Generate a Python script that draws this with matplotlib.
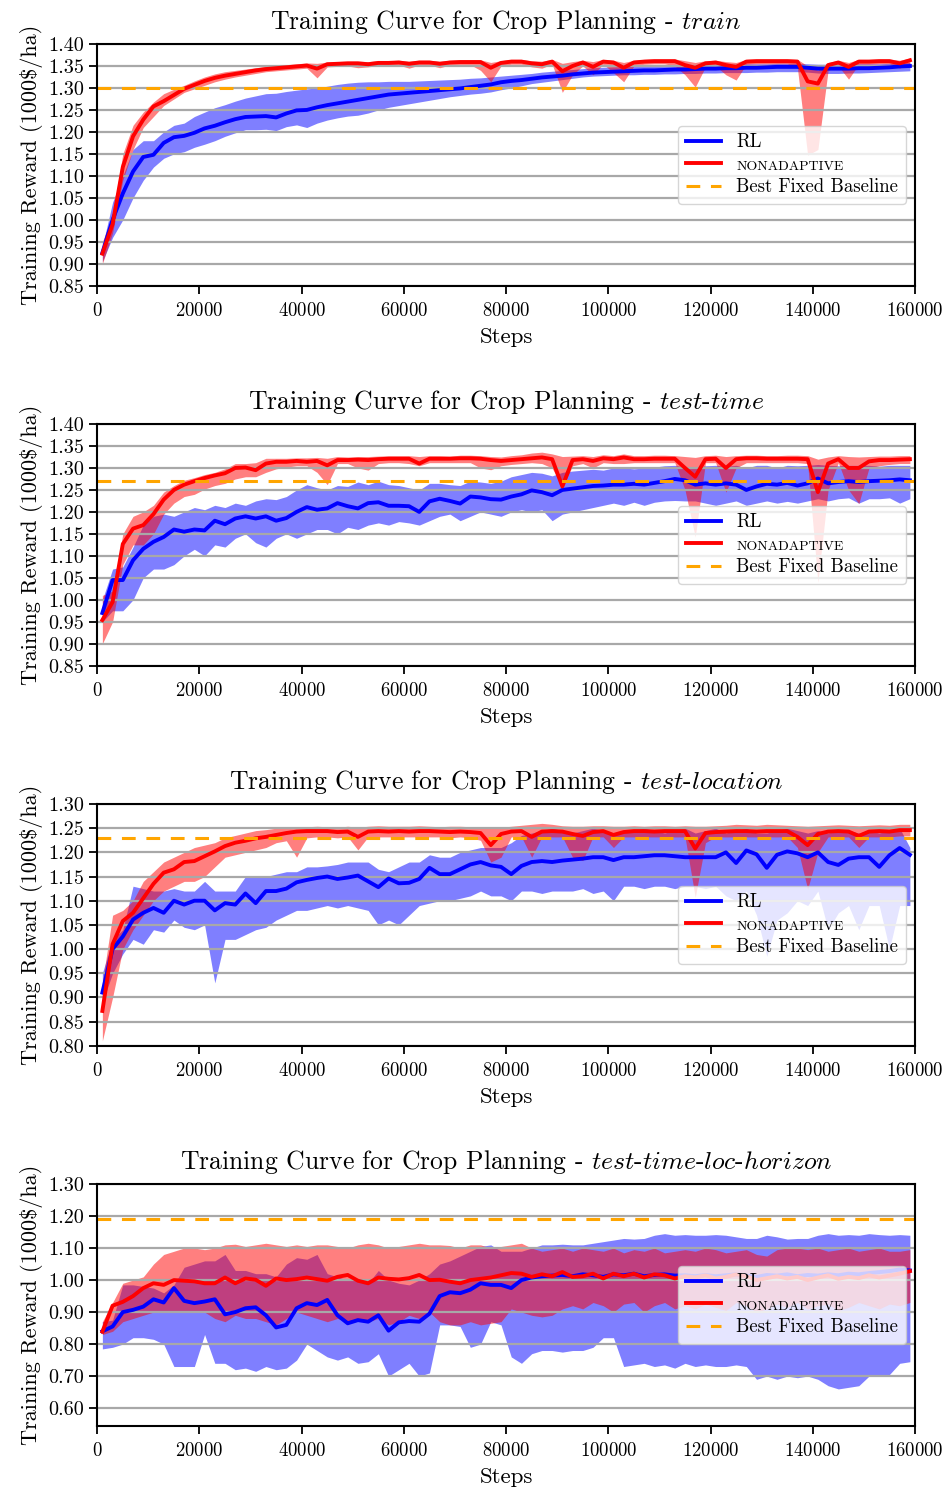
import numpy as np
import matplotlib
matplotlib.use("Agg")
import matplotlib.pyplot as plt
from matplotlib.ticker import FormatStrFormatter

plt.rcParams['font.family'] = 'cmr10'
plt.rcParams['mathtext.fontset'] = 'cm'
plt.rcParams['axes.formatter.use_mathtext'] = True

# logged training steps (every 2000 steps)
steps = np.arange(1000, 160000, 2000)

# ── train ────────────────────────────────────────────────────────────
train_na_mean = [
    0.923, 0.990, 1.120, 1.190, 1.228, 1.258, 1.270, 1.284, 1.298, 1.307,
    1.316, 1.323, 1.328, 1.332, 1.336, 1.340, 1.343, 1.345, 1.347, 1.349,
    1.351, 1.344, 1.354, 1.355, 1.356, 1.356, 1.354, 1.357, 1.357, 1.358,
    1.355, 1.358, 1.358, 1.355, 1.358, 1.359, 1.359, 1.359, 1.346, 1.357,
    1.360, 1.360, 1.356, 1.354, 1.360, 1.338, 1.350, 1.358, 1.348, 1.360,
    1.358, 1.346, 1.358, 1.360, 1.361, 1.361, 1.361, 1.352, 1.346, 1.356,
    1.358, 1.352, 1.348, 1.360, 1.361, 1.361, 1.361, 1.361, 1.360, 1.315,
    1.310, 1.352, 1.358, 1.348, 1.360, 1.360, 1.361, 1.361, 1.356, 1.363]
train_na_low = [
    0.900, 0.970, 1.090, 1.160, 1.210, 1.235, 1.260, 1.275, 1.290, 1.298,
    1.306, 1.314, 1.320, 1.325, 1.329, 1.333, 1.337, 1.339, 1.341, 1.343,
    1.345, 1.323, 1.348, 1.349, 1.350, 1.346, 1.348, 1.351, 1.351, 1.352,
    1.345, 1.352, 1.352, 1.346, 1.352, 1.353, 1.353, 1.340, 1.314, 1.350,
    1.354, 1.354, 1.348, 1.345, 1.354, 1.290, 1.330, 1.350, 1.330, 1.354,
    1.335, 1.314, 1.350, 1.354, 1.355, 1.355, 1.350, 1.330, 1.302, 1.348,
    1.350, 1.330, 1.318, 1.354, 1.355, 1.355, 1.355, 1.355, 1.345, 1.147,
    1.160, 1.340, 1.350, 1.320, 1.354, 1.354, 1.355, 1.355, 1.345, 1.356]
train_na_high = [
    0.950, 1.010, 1.150, 1.215, 1.245, 1.268, 1.287, 1.297, 1.306, 1.316,
    1.325, 1.332, 1.337, 1.340, 1.343, 1.346, 1.349, 1.351, 1.353, 1.355,
    1.357, 1.356, 1.359, 1.360, 1.361, 1.361, 1.360, 1.362, 1.362, 1.363,
    1.361, 1.363, 1.363, 1.361, 1.363, 1.364, 1.364, 1.364, 1.358, 1.362,
    1.365, 1.365, 1.362, 1.361, 1.365, 1.356, 1.360, 1.363, 1.360, 1.365,
    1.363, 1.358, 1.363, 1.365, 1.366, 1.366, 1.366, 1.362, 1.358, 1.362,
    1.363, 1.360, 1.358, 1.365, 1.366, 1.366, 1.366, 1.366, 1.365, 1.350,
    1.340, 1.358, 1.363, 1.358, 1.365, 1.365, 1.366, 1.366, 1.363, 1.368]
train_rl_mean = [
    0.925, 1.000, 1.060, 1.110, 1.143, 1.148, 1.175, 1.188, 1.191, 1.198,
    1.208, 1.214, 1.222, 1.229, 1.234, 1.235, 1.236, 1.233, 1.242, 1.249,
    1.250, 1.256, 1.261, 1.265, 1.269, 1.273, 1.277, 1.281, 1.285, 1.287,
    1.289, 1.291, 1.293, 1.295, 1.297, 1.299, 1.302, 1.305, 1.308, 1.313,
    1.316, 1.318, 1.321, 1.324, 1.326, 1.328, 1.331, 1.333, 1.335, 1.336,
    1.337, 1.338, 1.339, 1.340, 1.340, 1.341, 1.342, 1.342, 1.343, 1.344,
    1.344, 1.345, 1.345, 1.346, 1.346, 1.347, 1.348, 1.348, 1.348, 1.346,
    1.344, 1.344, 1.344, 1.344, 1.345, 1.345, 1.346, 1.347, 1.349, 1.350]
train_rl_low = [
    0.905, 0.960, 1.000, 1.050, 1.090, 1.120, 1.140, 1.150, 1.155, 1.165,
    1.172, 1.180, 1.190, 1.198, 1.205, 1.205, 1.206, 1.203, 1.212, 1.216,
    1.210, 1.220, 1.227, 1.232, 1.236, 1.238, 1.243, 1.250, 1.256, 1.260,
    1.264, 1.268, 1.272, 1.276, 1.280, 1.283, 1.286, 1.288, 1.291, 1.296,
    1.300, 1.305, 1.310, 1.313, 1.316, 1.319, 1.322, 1.325, 1.327, 1.328,
    1.329, 1.330, 1.330, 1.331, 1.331, 1.332, 1.332, 1.333, 1.333, 1.334,
    1.334, 1.335, 1.335, 1.335, 1.336, 1.336, 1.337, 1.337, 1.337, 1.336,
    1.334, 1.333, 1.333, 1.334, 1.334, 1.335, 1.336, 1.337, 1.338, 1.339]
train_rl_high = [
    0.940, 1.040, 1.100, 1.160, 1.180, 1.180, 1.200, 1.215, 1.220, 1.235,
    1.245, 1.255, 1.262, 1.270, 1.277, 1.282, 1.287, 1.288, 1.292, 1.295,
    1.298, 1.300, 1.304, 1.308, 1.311, 1.313, 1.314, 1.314, 1.315, 1.315,
    1.315, 1.316, 1.317, 1.318, 1.319, 1.320, 1.322, 1.323, 1.325, 1.327,
    1.329, 1.331, 1.333, 1.336, 1.338, 1.340, 1.342, 1.344, 1.346, 1.347,
    1.348, 1.349, 1.350, 1.350, 1.351, 1.351, 1.352, 1.352, 1.353, 1.353,
    1.354, 1.354, 1.354, 1.355, 1.355, 1.355, 1.356, 1.356, 1.356, 1.355,
    1.354, 1.354, 1.354, 1.354, 1.355, 1.355, 1.355, 1.356, 1.357, 1.358]

# ── test-time ────────────────────────────────────────────────────────
time_na_mean = [
    0.954, 0.995, 1.127, 1.162, 1.170, 1.195, 1.228, 1.250, 1.262, 1.270,
    1.277, 1.283, 1.288, 1.300, 1.301, 1.295, 1.310, 1.314, 1.314, 1.316,
    1.314, 1.316, 1.306, 1.318, 1.318, 1.319, 1.318, 1.320, 1.321, 1.321,
    1.321, 1.310, 1.321, 1.321, 1.321, 1.322, 1.322, 1.321, 1.318, 1.316,
    1.318, 1.320, 1.322, 1.324, 1.320, 1.258, 1.318, 1.320, 1.316, 1.322,
    1.320, 1.324, 1.320, 1.320, 1.321, 1.321, 1.321, 1.300, 1.280, 1.320,
    1.321, 1.300, 1.320, 1.322, 1.322, 1.321, 1.321, 1.321, 1.321, 1.320,
    1.245, 1.310, 1.320, 1.300, 1.300, 1.315, 1.318, 1.318, 1.319, 1.320]
time_na_low = [
    0.900, 0.950, 1.080, 1.125, 1.125, 1.150, 1.195, 1.220, 1.235, 1.240,
    1.252, 1.260, 1.265, 1.275, 1.280, 1.280, 1.290, 1.298, 1.302, 1.305,
    1.305, 1.290, 1.262, 1.310, 1.310, 1.300, 1.295, 1.310, 1.312, 1.312,
    1.310, 1.305, 1.312, 1.312, 1.312, 1.312, 1.312, 1.300, 1.296, 1.305,
    1.308, 1.310, 1.312, 1.310, 1.300, 1.255, 1.305, 1.310, 1.300, 1.312,
    1.310, 1.310, 1.312, 1.312, 1.312, 1.312, 1.312, 1.250, 1.143, 1.312,
    1.312, 1.245, 1.300, 1.312, 1.312, 1.312, 1.312, 1.312, 1.312, 1.310,
    1.040, 1.250, 1.312, 1.250, 1.219, 1.300, 1.305, 1.308, 1.310, 1.310]
time_na_high = [
    1.010, 1.020, 1.150, 1.190, 1.200, 1.215, 1.245, 1.260, 1.272, 1.278,
    1.285, 1.290, 1.298, 1.310, 1.310, 1.312, 1.322, 1.322, 1.322, 1.323,
    1.323, 1.324, 1.322, 1.326, 1.325, 1.326, 1.326, 1.327, 1.328, 1.328,
    1.328, 1.326, 1.328, 1.328, 1.327, 1.329, 1.329, 1.328, 1.326, 1.325,
    1.328, 1.330, 1.334, 1.336, 1.332, 1.326, 1.327, 1.328, 1.326, 1.330,
    1.328, 1.332, 1.328, 1.328, 1.329, 1.329, 1.328, 1.326, 1.324, 1.328,
    1.329, 1.326, 1.328, 1.329, 1.329, 1.328, 1.328, 1.329, 1.329, 1.328,
    1.320, 1.325, 1.328, 1.326, 1.325, 1.326, 1.327, 1.327, 1.328, 1.328]
time_rl_mean = [
    0.970, 1.045, 1.045, 1.090, 1.116, 1.132, 1.143, 1.160, 1.155, 1.160,
    1.158, 1.180, 1.172, 1.185, 1.190, 1.185, 1.190, 1.180, 1.186, 1.200,
    1.211, 1.205, 1.208, 1.220, 1.213, 1.208, 1.220, 1.222, 1.214, 1.214,
    1.213, 1.200, 1.224, 1.230, 1.225, 1.219, 1.235, 1.233, 1.229, 1.228,
    1.235, 1.240, 1.249, 1.245, 1.238, 1.250, 1.253, 1.256, 1.259, 1.260,
    1.262, 1.262, 1.264, 1.262, 1.266, 1.270, 1.275, 1.272, 1.262, 1.265,
    1.262, 1.265, 1.262, 1.250, 1.258, 1.264, 1.262, 1.266, 1.260, 1.265,
    1.276, 1.265, 1.268, 1.270, 1.268, 1.270, 1.271, 1.272, 1.274, 1.272]
time_rl_low = [
    0.950, 0.975, 0.975, 1.000, 1.050, 1.070, 1.070, 1.080, 1.100, 1.115,
    1.100, 1.125, 1.120, 1.140, 1.150, 1.130, 1.120, 1.140, 1.150, 1.140,
    1.150, 1.160, 1.160, 1.150, 1.165, 1.160, 1.170, 1.175, 1.170, 1.178,
    1.175, 1.170, 1.180, 1.190, 1.195, 1.180, 1.190, 1.200, 1.195, 1.190,
    1.200, 1.205, 1.200, 1.205, 1.180, 1.195, 1.200, 1.205, 1.210, 1.215,
    1.220, 1.215, 1.222, 1.215, 1.222, 1.225, 1.226, 1.225, 1.225, 1.220,
    1.215, 1.220, 1.225, 1.215, 1.220, 1.225, 1.220, 1.224, 1.220, 1.225,
    1.230, 1.225, 1.230, 1.232, 1.220, 1.230, 1.230, 1.232, 1.220, 1.230]
time_rl_high = [
    1.000, 1.070, 1.075, 1.120, 1.170, 1.190, 1.195, 1.190, 1.200, 1.210,
    1.205, 1.215, 1.210, 1.220, 1.215, 1.225, 1.230, 1.228, 1.235, 1.250,
    1.262, 1.255, 1.250, 1.260, 1.258, 1.268, 1.262, 1.270, 1.262, 1.260,
    1.255, 1.250, 1.265, 1.265, 1.262, 1.260, 1.270, 1.268, 1.265, 1.270,
    1.280, 1.285, 1.290, 1.288, 1.282, 1.290, 1.293, 1.295, 1.297, 1.295,
    1.300, 1.300, 1.298, 1.300, 1.302, 1.305, 1.306, 1.302, 1.300, 1.305,
    1.306, 1.304, 1.306, 1.300, 1.306, 1.306, 1.300, 1.306, 1.305, 1.306,
    1.308, 1.306, 1.305, 1.306, 1.306, 1.306, 1.304, 1.306, 1.306, 1.306]

# ── test-location ────────────────────────────────────────────────────
loc_na_mean = [
    0.872, 1.010, 1.058, 1.075, 1.105, 1.135, 1.158, 1.165, 1.180, 1.182,
    1.192, 1.202, 1.213, 1.220, 1.224, 1.229, 1.232, 1.236, 1.240, 1.243,
    1.244, 1.244, 1.244, 1.242, 1.243, 1.232, 1.243, 1.244, 1.243, 1.244,
    1.243, 1.244, 1.244, 1.243, 1.242, 1.243, 1.242, 1.240, 1.215, 1.238,
    1.243, 1.244, 1.232, 1.243, 1.244, 1.243, 1.238, 1.234, 1.242, 1.244,
    1.236, 1.242, 1.244, 1.244, 1.243, 1.244, 1.244, 1.244, 1.208, 1.240,
    1.242, 1.243, 1.244, 1.244, 1.243, 1.244, 1.244, 1.244, 1.232, 1.215,
    1.238, 1.243, 1.244, 1.243, 1.234, 1.243, 1.244, 1.243, 1.246, 1.246]
loc_na_low = [
    0.810, 0.900, 1.000, 1.040, 1.070, 1.100, 1.120, 1.130, 1.140, 1.140,
    1.150, 1.170, 1.190, 1.195, 1.200, 1.205, 1.210, 1.220, 1.224, 1.190,
    1.230, 1.232, 1.232, 1.230, 1.232, 1.205, 1.232, 1.232, 1.232, 1.232,
    1.232, 1.232, 1.232, 1.232, 1.230, 1.232, 1.230, 1.225, 1.180, 1.190,
    1.232, 1.232, 1.190, 1.232, 1.232, 1.232, 1.190, 1.183, 1.232, 1.232,
    1.210, 1.232, 1.232, 1.232, 1.232, 1.232, 1.232, 1.232, 1.107, 1.220,
    1.232, 1.232, 1.232, 1.232, 1.232, 1.232, 1.232, 1.232, 1.210, 1.124,
    1.200, 1.232, 1.232, 1.232, 1.210, 1.232, 1.232, 1.232, 1.234, 1.234]
loc_na_high = [
    0.930, 1.070, 1.080, 1.100, 1.140, 1.160, 1.180, 1.190, 1.200, 1.210,
    1.215, 1.220, 1.230, 1.235, 1.240, 1.245, 1.247, 1.250, 1.252, 1.252,
    1.253, 1.254, 1.253, 1.252, 1.254, 1.252, 1.254, 1.255, 1.254, 1.254,
    1.254, 1.255, 1.254, 1.253, 1.254, 1.254, 1.253, 1.253, 1.252, 1.252,
    1.254, 1.256, 1.258, 1.260, 1.258, 1.255, 1.254, 1.254, 1.255, 1.255,
    1.254, 1.254, 1.255, 1.254, 1.255, 1.255, 1.254, 1.255, 1.254, 1.254,
    1.255, 1.256, 1.258, 1.257, 1.256, 1.258, 1.257, 1.256, 1.255, 1.254,
    1.255, 1.256, 1.257, 1.256, 1.255, 1.256, 1.257, 1.256, 1.258, 1.258]
loc_rl_mean = [
    0.910, 1.000, 1.026, 1.061, 1.075, 1.085, 1.075, 1.100, 1.092, 1.100,
    1.100, 1.080, 1.095, 1.092, 1.115, 1.095, 1.120, 1.120, 1.125, 1.138,
    1.143, 1.147, 1.150, 1.145, 1.148, 1.152, 1.140, 1.128, 1.146, 1.136,
    1.137, 1.145, 1.168, 1.155, 1.155, 1.165, 1.175, 1.180, 1.173, 1.170,
    1.155, 1.172, 1.180, 1.182, 1.180, 1.183, 1.185, 1.187, 1.190, 1.190,
    1.184, 1.190, 1.190, 1.192, 1.194, 1.194, 1.192, 1.190, 1.190, 1.190,
    1.190, 1.200, 1.178, 1.204, 1.196, 1.168, 1.195, 1.202, 1.198, 1.190,
    1.200, 1.180, 1.174, 1.187, 1.190, 1.190, 1.170, 1.194, 1.209, 1.195]
loc_rl_low = [
    0.890, 0.950, 0.990, 1.020, 1.010, 1.040, 1.035, 1.060, 1.045, 1.040,
    1.050, 0.930, 1.020, 1.020, 1.030, 1.040, 1.045, 1.060, 1.070, 1.080,
    1.080, 1.085, 1.090, 1.085, 1.090, 1.085, 1.080, 1.050, 1.060, 1.050,
    1.070, 1.090, 1.095, 1.100, 1.100, 1.105, 1.110, 1.120, 1.110, 1.110,
    1.100, 1.120, 1.120, 1.115, 1.120, 1.120, 1.120, 1.125, 1.115, 1.120,
    1.100, 1.130, 1.130, 1.125, 1.130, 1.130, 1.125, 1.130, 1.130, 1.125,
    1.130, 1.110, 1.100, 1.120, 1.070, 0.985, 1.060, 1.075, 1.100, 1.090,
    1.120, 1.040, 1.075, 1.090, 1.040, 1.090, 1.090, 1.000, 1.090, 1.090]
loc_rl_high = [
    0.950, 1.020, 1.040, 1.130, 1.125, 1.120, 1.120, 1.125, 1.120, 1.120,
    1.140, 1.120, 1.120, 1.120, 1.150, 1.150, 1.150, 1.155, 1.160, 1.160,
    1.170, 1.170, 1.172, 1.175, 1.180, 1.180, 1.180, 1.165, 1.160, 1.170,
    1.180, 1.180, 1.195, 1.190, 1.190, 1.200, 1.205, 1.210, 1.210, 1.210,
    1.220, 1.235, 1.240, 1.245, 1.250, 1.245, 1.240, 1.245, 1.250, 1.245,
    1.240, 1.240, 1.245, 1.250, 1.245, 1.240, 1.245, 1.250, 1.240, 1.245,
    1.250, 1.240, 1.245, 1.250, 1.240, 1.240, 1.245, 1.250, 1.245, 1.240,
    1.245, 1.240, 1.245, 1.245, 1.240, 1.245, 1.240, 1.245, 1.250, 1.210]

# ── test-time-loc-horizon ────────────────────────────────────────────
hor_na_mean = [
    0.839, 0.920, 0.932, 0.950, 0.975, 0.990, 0.985, 1.000, 0.998, 0.996,
    0.990, 0.990, 1.008, 0.990, 1.005, 1.001, 0.982, 1.005, 1.000, 1.003,
    1.008, 1.003, 0.998, 1.010, 1.016, 0.998, 0.990, 1.008, 1.004, 1.002,
    1.006, 1.016, 1.000, 1.001, 0.995, 0.990, 1.000, 1.004, 1.008, 1.015,
    1.022, 1.020, 1.010, 1.018, 1.012, 1.025, 1.010, 1.012, 1.020, 1.005,
    1.020, 1.012, 1.020, 1.008, 1.018, 1.015, 1.005, 1.012, 1.008, 1.015,
    1.005, 1.010, 1.018, 1.012, 1.000, 1.006, 1.012, 1.005, 1.010, 1.000,
    1.008, 1.015, 1.004, 1.010, 1.006, 1.015, 1.008, 1.014, 1.020, 1.028]
hor_na_low = [
    0.830, 0.840, 0.870, 0.880, 0.890, 0.900, 0.900, 0.905, 0.900, 0.905,
    0.900, 0.880, 0.870, 0.890, 0.880, 0.880, 0.870, 0.860, 0.880, 0.900,
    0.890, 0.880, 0.870, 0.880, 0.870, 0.880, 0.870, 0.880, 0.860, 0.870,
    0.890, 0.880, 0.900, 0.870, 0.860, 0.860, 0.870, 0.860, 0.865, 0.870,
    0.910, 0.900, 0.890, 0.885, 0.890, 0.910, 0.920, 0.910, 0.930, 0.920,
    0.900, 0.925, 0.930, 0.900, 0.920, 0.930, 0.910, 0.920, 0.910, 0.925,
    0.915, 0.905, 0.930, 0.920, 0.900, 0.910, 0.925, 0.915, 0.930, 0.910,
    0.920, 0.925, 0.905, 0.915, 0.930, 0.920, 0.910, 0.925, 0.920, 0.930]
hor_na_high = [
    0.870, 0.930, 0.990, 1.000, 1.010, 1.050, 1.080, 1.090, 1.100, 1.100,
    1.095, 1.100, 1.110, 1.112, 1.105, 1.110, 1.115, 1.110, 1.105, 1.110,
    1.105, 1.110, 1.110, 1.105, 1.100, 1.110, 1.115, 1.110, 1.100, 1.105,
    1.110, 1.115, 1.110, 1.110, 1.108, 1.100, 1.110, 1.110, 1.100, 1.105,
    1.110, 1.115, 1.100, 1.090, 1.095, 1.100, 1.090, 1.100, 1.095, 1.090,
    1.100, 1.085, 1.095, 1.090, 1.100, 1.085, 1.090, 1.095, 1.090, 1.100,
    1.095, 1.085, 1.090, 1.095, 1.080, 1.075, 1.095, 1.100, 1.100, 1.095,
    1.100, 1.090, 1.095, 1.100, 1.090, 1.095, 1.100, 1.090, 1.090, 1.095]
hor_rl_mean = [
    0.840, 0.855, 0.900, 0.907, 0.917, 0.940, 0.930, 0.975, 0.935, 0.928,
    0.933, 0.940, 0.893, 0.900, 0.912, 0.915, 0.890, 0.852, 0.860, 0.912,
    0.928, 0.922, 0.938, 0.890, 0.865, 0.875, 0.870, 0.890, 0.842, 0.868,
    0.872, 0.870, 0.895, 0.950, 0.962, 0.959, 0.970, 0.990, 0.985, 0.985,
    0.975, 1.000, 1.008, 1.012, 1.014, 1.016, 1.012, 1.018, 1.015, 1.010,
    1.018, 1.015, 1.020, 1.012, 1.016, 1.018, 1.014, 1.015, 1.012, 1.016,
    1.012, 1.015, 1.018, 1.014, 1.010, 1.016, 1.014, 1.018, 1.012, 1.016,
    1.014, 1.018, 1.015, 1.020, 1.018, 1.022, 1.025, 1.028, 1.033, 1.030]
hor_rl_low = [
    0.785, 0.790, 0.800, 0.820, 0.820, 0.815, 0.800, 0.730, 0.730, 0.730,
    0.830, 0.740, 0.740, 0.720, 0.725, 0.715, 0.730, 0.720, 0.725, 0.750,
    0.800, 0.780, 0.760, 0.750, 0.760, 0.740, 0.745, 0.770, 0.700, 0.720,
    0.740, 0.700, 0.710, 0.860, 0.860, 0.855, 0.790, 0.800, 0.870, 0.860,
    0.760, 0.740, 0.770, 0.780, 0.780, 0.775, 0.780, 0.780, 0.790, 0.820,
    0.820, 0.730, 0.735, 0.740, 0.730, 0.735, 0.725, 0.740, 0.730, 0.735,
    0.730, 0.730, 0.735, 0.730, 0.690, 0.700, 0.690, 0.700, 0.695, 0.700,
    0.690, 0.670, 0.660, 0.665, 0.670, 0.700, 0.700, 0.705, 0.740, 0.745]
hor_rl_high = [
    0.870, 0.875, 0.985, 0.985, 0.980, 0.975, 0.960, 0.985, 1.040, 1.050,
    1.060, 1.060, 1.080, 1.030, 1.030, 1.020, 1.020, 1.010, 1.050, 1.070,
    1.065, 1.080, 1.020, 1.010, 1.000, 1.005, 0.990, 1.030, 1.000, 0.990,
    0.985, 1.000, 1.020, 1.050, 1.060, 1.075, 1.090, 1.105, 1.110, 1.090,
    1.090, 1.090, 1.100, 1.110, 1.110, 1.112, 1.110, 1.110, 1.115, 1.120,
    1.125, 1.130, 1.128, 1.130, 1.140, 1.145, 1.140, 1.142, 1.140, 1.140,
    1.142, 1.140, 1.135, 1.130, 1.130, 1.140, 1.135, 1.128, 1.130, 1.130,
    1.140, 1.145, 1.140, 1.142, 1.140, 1.145, 1.142, 1.140, 1.142, 1.140]

splits = [r'$\mathit{train}$',
          r'$\mathit{test}$-$\mathit{time}$',
          r'$\mathit{test}$-$\mathit{location}$',
          r'$\mathit{test}$-$\mathit{time}$-$\mathit{loc}$-$\mathit{horizon}$']
baselines = [1.30, 1.27, 1.23, 1.192]
y_limits = [(0.85, 1.40), (0.85, 1.40), (0.80, 1.30), (0.545, 1.30)]
y_ticks = [np.arange(0.85, 1.401, 0.05), np.arange(0.85, 1.401, 0.05),
           np.arange(0.80, 1.301, 0.05), np.arange(0.60, 1.301, 0.10)]

panels = [
    (train_rl_mean, train_rl_low, train_rl_high, train_na_mean, train_na_low, train_na_high),
    (time_rl_mean, time_rl_low, time_rl_high, time_na_mean, time_na_low, time_na_high),
    (loc_rl_mean, loc_rl_low, loc_rl_high, loc_na_mean, loc_na_low, loc_na_high),
    (hor_rl_mean, hor_rl_low, hor_rl_high, hor_na_mean, hor_na_low, hor_na_high),
]


def main():
    fig, axes = plt.subplots(4, 1, figsize=(9.47, 14.92), dpi=100)
    fig.subplots_adjust(left=0.1027, right=0.9662, top=0.9705, bottom=0.0444, hspace=0.572)

    for i, ax in enumerate(axes):
        rl_m, rl_lo, rl_hi, na_m, na_lo, na_hi = panels[i]

        ax.fill_between(steps, rl_lo, rl_hi, color='blue', alpha=0.5, linewidth=0)
        ax.plot(steps, rl_m, color='blue', lw=2.8, label='RL')
        ax.fill_between(steps, na_lo, na_hi, color='red', alpha=0.5, linewidth=0)
        ax.plot(steps, na_m, color='red', lw=2.8, label='NONADAPTIVE')
        ax.axhline(baselines[i], color='orange', lw=2.2, ls=(0, (4.5, 3.5)),
                   label='Best Fixed Baseline')

        ax.set_xlim(0, 160000)
        ax.set_ylim(*y_limits[i])
        ax.set_xticks(np.arange(0, 160001, 20000))
        ax.set_yticks(y_ticks[i])
        ax.yaxis.set_major_formatter(FormatStrFormatter('%.2f'))
        ax.tick_params(length=6, width=1.3)
        ax.tick_params(axis='x', labelsize=13.5, pad=6.0)
        ax.tick_params(axis='y', labelsize=14.5)
        ax.yaxis.grid(True, color='#a8a8a8', lw=1.6)
        for sp in ax.spines.values():
            sp.set_linewidth(1.5)

        ax.set_title('Training Curve for Crop Planning - ' + splits[i], fontsize=18.5, pad=10.8)
        ax.set_xlabel('Steps', fontsize=16.5, labelpad=5)
        ax.set_ylabel(r'Training Reward (1000\$/ha)', fontsize=16)

        leg = ax.legend(loc='center right', fontsize=13.5, handlelength=1.9, labelspacing=0.3)
        leg.get_texts()[1].set_fontsize(10)

    plt.savefig('out.png', dpi=100)
    plt.close()


if __name__ == "__main__":
    main()
